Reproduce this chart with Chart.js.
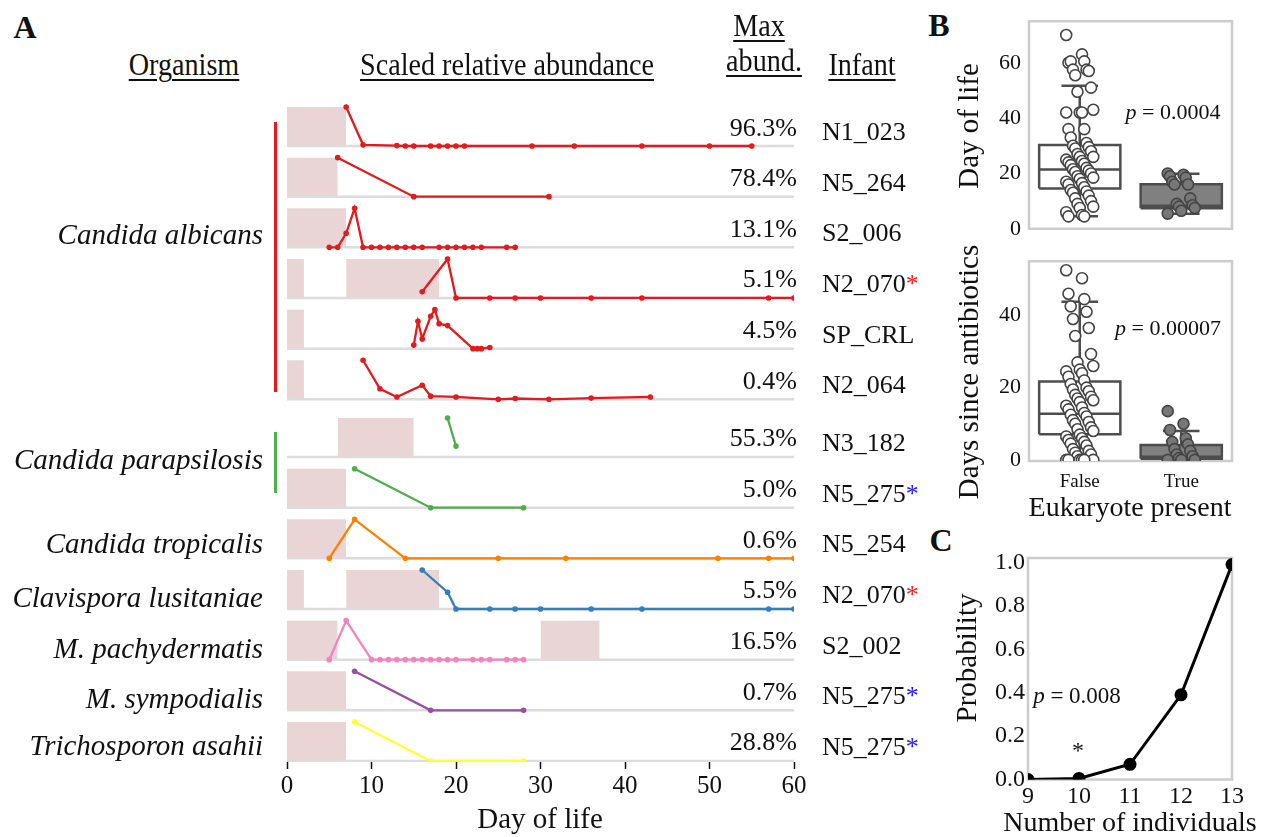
<!DOCTYPE html>
<html>
<head>
<meta charset="utf-8">
<script src="https://cdn.jsdelivr.net/npm/chart.js@4.4.0/dist/chart.umd.min.js"></script>
<style>
  body { margin: 0; background: #fff; font-family: "Liberation Serif", "DejaVu Serif", serif; }
  #page { position: relative; width: 1271px; height: 837px; overflow: hidden; }
  canvas { position: absolute; }
  .t { position: absolute; white-space: nowrap; color: #111; line-height: 1; }
  .u { text-decoration: underline; text-decoration-thickness: 1.5px; text-underline-offset: 4px; }
  .bar { position: absolute; width: 2.5px; }
</style>
</head>
<body>
<div id="page">
  <canvas id="chartA" width="570" height="837" style="left:250px;top:0px"></canvas>
  <canvas id="chartB1" width="290" height="250" style="left:960px;top:0px"></canvas>
  <canvas id="chartB2" width="290" height="275" style="left:960px;top:240px"></canvas>
  <canvas id="chartC" width="290" height="297" style="left:960px;top:540px"></canvas>
</div>
<script>
// ---------- panel A data: one row per infant/organism ----------
const infants   = ['N1_023','N5_264','S2_006','N2_070','SP_CRL','N2_064','N3_182','N5_275','N5_254','N2_070','S2_002','N5_275','N5_275'];
const maxAbund  = ['96.3%','78.4%','13.1%','5.1%','4.5%','0.4%','55.3%','5.0%','0.6%','5.5%','16.5%','0.7%','28.8%'];
const infantStar = ['','','','red','','','','blue','','red','','blue','blue'];

// day of life / scaled abundance for each row
const dayN1_023  = [7, 9, 13, 14, 15, 17, 18, 19, 20, 21, 29, 34, 42, 50, 55];
const abN1_023   = [1, 0.03, 0.01, 0, 0, 0, 0, 0, 0, 0, 0, 0, 0, 0, 0];
const dayN5_264  = [6, 15, 31];
const abN5_264   = [1, 0, 0];
const dayS2_006  = [5, 6, 7, 8, 9, 10, 11, 12, 13, 14, 15, 16, 18, 19, 20, 21, 22, 23, 26, 27];
const abS2_006   = [0, 0, 0.36, 1, 0, 0, 0, 0, 0, 0, 0, 0, 0, 0, 0, 0, 0, 0, 0, 0];
const dayN2_070  = [16, 19, 20, 24, 27, 30, 36, 42, 57, 60];
const abN2_070   = [0.16, 1, 0, 0, 0, 0, 0, 0, 0, 0];
const daySP_CRL  = [15, 15.5, 16, 17, 17.5, 18, 19, 22, 22.5, 23, 24];
const abSP_CRL   = [0.09, 0.7, 0.25, 0.83, 1, 0.64, 0.59, 0, 0, 0, 0.03];
const dayN2_064  = [9, 11, 13, 16, 17, 20, 25, 27, 31, 36, 43];
const abN2_064   = [1, 0.27, 0.06, 0.36, 0.08, 0.06, 0, 0.02, 0, 0.03, 0.06];
const dayN3_182  = [19, 20];
const abN3_182   = [1, 0.28];
const dayN5_275p = [8, 17, 28];
const abN5_275p  = [1, 0, 0];
const dayN5_254  = [5, 8, 14, 25, 33, 51, 57, 60];
const abN5_254   = [0, 1, 0, 0, 0, 0, 0, 0];
const dayN2_070c = [16, 19, 20, 24, 27, 30, 36, 42, 57, 60];
const abN2_070c  = [1, 0.43, 0, 0, 0, 0, 0, 0, 0, 0];
const dayS2_002  = [5, 7, 10, 11, 12, 13, 14, 15, 16, 17, 18, 19, 20, 22, 23, 24, 26, 27, 28];
const abS2_002   = [0, 1, 0, 0, 0, 0, 0, 0, 0, 0, 0, 0, 0, 0, 0, 0, 0, 0, 0];
const dayN5_275m = [8, 17, 28];
const abN5_275m  = [1, 0, 0];
const dayN5_275t = [8, 17, 28];
const abN5_275t  = [1, 0, 0];

// antibiotic periods (start day, end day)
const abxPeriods = [
  [[0, 7]], [[0, 6]], [[0, 7]], [[0, 2], [7, 18]], [[0, 2]], [[0, 2]], [[6, 15]],
  [[0, 7]], [[0, 7]], [[0, 2], [7, 18]], [[0, 6], [30, 37]], [[0, 7]], [[0, 7]]
];

const rowDays = [dayN1_023, dayN5_264, dayS2_006, dayN2_070, daySP_CRL, dayN2_064, dayN3_182,
                 dayN5_275p, dayN5_254, dayN2_070c, dayS2_002, dayN5_275m, dayN5_275t];
const rowAb   = [abN1_023, abN5_264, abS2_006, abN2_070, abSP_CRL, abN2_064, abN3_182,
                 abN5_275p, abN5_254, abN2_070c, abS2_002, abN5_275m, abN5_275t];
const rowColors = ['#e41a1c','#e41a1c','#e41a1c','#e41a1c','#e41a1c','#e41a1c','#4daf4a',
                   '#4daf4a','#ff7f00','#377eb8','#f781bf','#984ea3','#ffff33'];

const organisms = ['Candida albicans','Candida parapsilosis','Candida tropicalis','Clavispora lusitaniae',
                   'M. pachydermatis','M. sympodialis','Trichosporon asahii'];
const dayTicks = [0, 10, 20, 30, 40, 50, 60];

// ---------- panel B data ----------
const boxLabels = ['False', 'True'];
// whisker low, Q1, median, Q3, whisker high
const dolFalseBox = [4.5, 14.6, 21.4, 30.3, 51.7];
const dolTrueBox  = [5.4, 7.4, 8.3, 16.1, 19.9];
const dsaFalseBox = [0, 7.1, 12.8, 21.7, 43.8];
const dsaTrueBox  = [0, 0.3, 0.9, 4.1, 8.0];
const dolFalsePts = [70, 63, 60, 60.5, 60.5, 57.5, 57.5, 57, 55.5, 51, 49.5, 43, 42, 42, 42, 36, 36, 33, 31, 30,
                     29.5, 29, 28, 27, 26, 26, 25, 24.5, 24, 23.5, 23, 22, 21.5, 21, 20.5, 20, 19, 18.5, 18, 17,
                     16.5, 16, 15, 14, 13.5, 13, 12, 11, 10, 9, 8, 7.5, 6, 5, 4.5, 4.5];
const dolTruePts  = [20, 19.5, 19, 18.5, 17, 16, 16, 11, 9, 8.5, 8, 7.5, 6.5, 5.5];
const dsaFalsePts = [52.5, 50.3, 46, 44.5, 42.5, 41, 39, 36.5, 34.3, 29.3, 27, 26, 25, 24.5, 24, 23, 22, 21, 20,
                     19.5, 19, 18, 17.5, 17, 16.5, 16, 15, 14.5, 14, 13, 12.5, 12, 11, 10.5, 10, 9, 8.5, 8, 7,
                     6.5, 6, 5.5, 5, 4.5, 4, 3, 2.5, 2, 1.5, 1, 0, 0, 0, 0, 0, 0];
const dsaTruePts  = [13.5, 10, 8.3, 6, 5, 4.3, 3, 2.5, 1.5, 1, 0.5, 0, 0, 0];

// ---------- panel C data ----------
const nIndividuals = [9, 10, 11, 12, 13];
const probability  = [0.0, 0.005, 0.07, 0.39, 0.99];

// ---------- layout helpers ----------
const page = document.getElementById('page');
function txt(s, x, y, size, o = {}) {
  const d = document.createElement('div');
  d.className = 't' + (o.cls ? ' ' + o.cls : '');
  d.innerHTML = s;
  d.style.left = x + 'px';
  d.style.top = y + 'px';
  d.style.fontSize = size + 'px';
  if (o.italic) d.style.fontStyle = 'italic';
  if (o.bold) d.style.fontWeight = 'bold';
  const ax = { l: '0', c: '-50%', r: '-100%' }[o.align || 'c'];
  let tf = `translate(${ax}, -50%)`;
  if (o.rot) tf += ' rotate(-90deg)';
  if (o.sx) tf += ` scaleX(${o.sx})`;
  d.style.transform = tf;
  page.appendChild(d);
}
function vbar(x, y0, y1, color) {
  const d = document.createElement('div');
  d.className = 'bar';
  d.style.left = x + 'px';
  d.style.top = y0 + 'px';
  d.style.height = (y1 - y0) + 'px';
  d.style.background = color;
  page.appendChild(d);
}

Chart.defaults.font.family = '"Liberation Serif", serif';
Chart.defaults.color = '#111';
Chart.defaults.animation = false;
Chart.defaults.events = [];
Chart.defaults.plugins.legend.display = false;
Chart.defaults.plugins.tooltip.enabled = false;

// light grey frame round the plot area
const framePlugin = {
  id: 'frame',
  beforeDatasetsDraw(chart) {
    const a = chart.chartArea, c = chart.ctx;
    c.save();
    c.strokeStyle = '#cccccc';
    c.lineWidth = 2.5;
    c.strokeRect(a.left, a.top, a.right - a.left, a.bottom - a.top);
    c.restore();
  }
};

// ---------- panel A ----------
const ROW = [0, 1, 2, 3, 4, 5, 6.14, 7.14, 8.14, 9.14, 10.14, 11.14, 12.14]; // row offsets (layout)
const AMP = 0.77;
const dsA = [];
ROW.forEach((off, i) => {
  const base = -off;
  abxPeriods[i].forEach(p => {
    dsA.push({
      data: [{ x: p[0], y: base + AMP }, { x: p[1], y: base + AMP }],
      showLine: true, borderWidth: 0, pointRadius: 0,
      fill: { value: base }, backgroundColor: 'rgba(200,150,150,0.4)', order: 3
    });
  });
  dsA.push({
    data: [{ x: 0, y: base }, { x: 60, y: base }],
    showLine: true, borderColor: '#dcdcdc', borderWidth: 2.5, pointRadius: 0, order: 2
  });
  dsA.push({
    data: rowDays[i].map((d, k) => ({ x: d, y: base + rowAb[i][k] * AMP })),
    showLine: true, borderColor: rowColors[i], backgroundColor: rowColors[i],
    borderWidth: 2.3, pointRadius: 2.8, pointBorderWidth: 0, order: 1
  });
});

new Chart(document.getElementById('chartA'), {
  type: 'scatter',
  data: { datasets: dsA },
  options: {
    responsive: false,
    layout: { padding: { left: 37, right: 26, top: 100, bottom: 27 } },
    scales: {
      x: {
        type: 'linear', min: 0, max: 60,
        afterBuildTicks: s => { s.ticks = dayTicks.map(v => ({ value: v })); },
        afterFit: s => { s.height = 48; },
        grid: { display: true, drawOnChartArea: false, tickLength: 7, tickColor: '#111', tickWidth: 1.5 },
        border: { display: false },
        ticks: { font: { size: 25 }, padding: 2, color: '#111' }
      },
      y: { display: false, min: -12.16, max: 0.908 }
    }
  }
});

// panel A text
txt('A', 25, 27, 32, { bold: true });
txt('Organism', 184, 64, 32, { cls: 'u', sx: 0.88 });
txt('Scaled relative abundance', 507, 64, 32, { cls: 'u', sx: 0.88 });
txt('Max', 759, 25, 32, { cls: 'u', sx: 0.88 });
txt('abund.', 764, 60, 32, { cls: 'u', sx: 0.88 });
txt('Infant', 862, 64, 32, { cls: 'u', sx: 0.88 });
ROW.forEach((off, i) => {
  const base = 146 + off * 50.65;
  txt(maxAbund[i], 797, base - 18.5, 26, { align: 'r' });
  const star = infantStar[i] ? `<span style="color:${infantStar[i] === 'red' ? '#ff2020' : '#2020ff'}">*</span>` : '';
  txt(infants[i] + star, 822, base - 14, 26, { align: 'l' });
});
const orgY = [234, 459, 543, 597, 648, 698, 745];
organisms.forEach((o, i) => txt(o, 263, orgY[i], 29, { align: 'r', italic: true }));
vbar(274, 122, 392, '#e41a1c');
vbar(274, 432, 493, '#4daf4a');
txt('Day of life', 540, 818, 29);

// ---------- panel B ----------
function jitter(n) {
  const out = [];
  for (let k = 0; k < n; k++) out.push((((k * 7) % 13) - 6) / 45);
  return out;
}
function boxSets(stats, xc, fillColor) {
  const [lo, q1, med, q3, hi] = stats;
  const w = 0.4, c = 0.18;
  const ln = { showLine: true, borderColor: '#4d4d4d', borderWidth: 2.5, pointRadius: 0, order: 1, borderJoinStyle: 'miter' };
  return [
    { ...ln, data: [{ x: xc - w, y: q3 }, { x: xc + w, y: q3 }], fill: { value: q1 }, backgroundColor: fillColor, borderWidth: 0, order: 2 },
    { ...ln, data: [{ x: xc - w, y: q1 }, { x: xc - w, y: q3 }, { x: xc + w, y: q3 }, { x: xc + w, y: q1 }, { x: xc - w, y: q1 }] },
    { ...ln, data: [{ x: xc - w, y: med }, { x: xc + w, y: med }] },
    { ...ln, data: [{ x: xc, y: q3 }, { x: xc, y: hi }] },
    { ...ln, data: [{ x: xc - c, y: hi }, { x: xc + c, y: hi }] },
    { ...ln, data: [{ x: xc, y: q1 }, { x: xc, y: lo }] },
    { ...ln, data: [{ x: xc - c, y: lo }, { x: xc + c, y: lo }] }
  ];
}
function stripSet(vals, xc, fill) {
  const j = jitter(vals.length);
  return {
    data: vals.map((v, k) => ({ x: xc + j[k], y: v })),
    pointRadius: 5.5, pointBorderWidth: 1.6, pointBorderColor: '#444', pointBackgroundColor: fill, order: 0
  };
}
function boxChart(id, falseBox, trueBox, falsePts, truePts, ymin, ymax, yticks, showX, pad) {
  return new Chart(document.getElementById(id), {
    type: 'scatter',
    data: {
      datasets: [
        ...boxSets(falseBox, 0, '#ffffff'), ...boxSets(trueBox, 1, '#808080'),
        stripSet(falsePts, 0, '#ffffff'), stripSet(truePts, 1, '#777777')
      ]
    },
    options: {
      responsive: false,
      layout: { padding: pad },
      scales: {
        x: {
          type: 'linear', min: -0.5, max: 1.5, display: showX,
          afterBuildTicks: s => { s.ticks = [0, 1].map(v => ({ value: v })); },
          afterFit: s => { s.height = showX ? 45 : 0; },
          grid: { display: false, drawTicks: false }, border: { display: false },
          ticks: { font: { size: 19 }, padding: 10, callback: v => boxLabels[v] }
        },
        y: {
          min: ymin, max: ymax,
          afterBuildTicks: s => { s.ticks = yticks.map(v => ({ value: v })); },
          afterFit: s => { s.width = 55; },
          grid: { display: false, drawTicks: false }, border: { display: false },
          ticks: { font: { size: 22 }, padding: 8 }
        }
      }
    },
    plugins: [framePlugin]
  });
}
boxChart('chartB1', dolFalseBox, dolTrueBox, dolFalsePts, dolTruePts, 0, 75, [0, 20, 40, 60], false,
         { left: 14, right: 18, top: 18, bottom: 16 });
boxChart('chartB2', dsaFalseBox, dsaTrueBox, dsaFalsePts, dsaTruePts, -0.3, 55, [0, 20, 40], true,
         { left: 14, right: 18, top: 4, bottom: 9 });

txt('B', 939, 25, 32, { bold: true });
txt('Day of life', 968, 126, 29, { rot: true });
txt('Days since antibiotics', 968, 372, 29, { rot: true });
txt('<i>p</i> = 0.0004', 1173, 112, 22);
txt('<i>p</i> = 0.00007', 1168, 328, 22);
txt('Eukaryote present', 1130, 507, 28);

// ---------- panel C ----------
new Chart(document.getElementById('chartC'), {
  type: 'scatter',
  data: {
    datasets: [{
      data: nIndividuals.map((n, k) => ({ x: n, y: probability[k] })),
      showLine: true, borderColor: '#000', backgroundColor: '#000', borderWidth: 3,
      pointRadius: 6.5, pointBorderWidth: 0, clip: 0
    }]
  },
  options: {
    responsive: false,
    layout: { padding: { left: 13, right: 18, top: 18, bottom: 27.5 } },
    scales: {
      x: {
        type: 'linear', min: 9, max: 13,
        afterBuildTicks: s => { s.ticks = nIndividuals.map(v => ({ value: v })); },
        afterFit: s => { s.height = 30; },
        grid: { display: false, drawTicks: false }, border: { display: false },
        ticks: { font: { size: 24 }, padding: 3 }
      },
      y: {
        min: 0, max: 1.02,
        afterBuildTicks: s => { s.ticks = [0, 0.2, 0.4, 0.6, 0.8, 1.0].map(v => ({ value: v })); },
        afterFit: s => { s.width = 55; },
        grid: { display: false, drawTicks: false }, border: { display: false },
        ticks: { font: { size: 24 }, padding: 3, callback: v => v.toFixed(1) }
      }
    }
  },
  plugins: [framePlugin]
});

txt('C', 941, 540, 32, { bold: true });
txt('Probability', 966, 658, 29, { rot: true });
txt('<i>p</i> = 0.008', 1077, 695, 23);
txt('*', 1078, 750, 24);
txt('Number of individuals', 1130, 822, 28);
</script>
</body>
</html>
